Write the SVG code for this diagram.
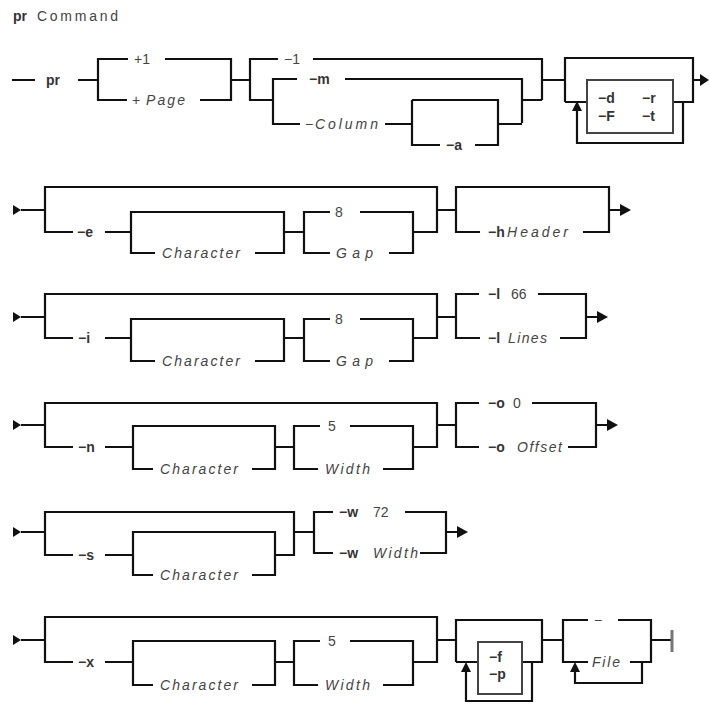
<svg xmlns="http://www.w3.org/2000/svg" width="709" height="704" viewBox="0 0 709 704">
<style>
.ln{fill:none;stroke:#111;stroke-width:2.2;stroke-linejoin:miter;stroke-linecap:butt}
.box{fill:none;stroke:#444;stroke-width:2}
.ar{fill:#111;stroke:none}
.end{stroke:#777;stroke-width:3}
text{font-family:"Liberation Sans",Arial,sans-serif;font-size:14px;fill:#444}
.b{font-weight:bold;fill:#333}
.i{font-style:italic}
</style>
<rect width="709" height="704" fill="#fff"/>
<g id="title">
<text class="b" x="13" y="21">pr</text>
<text x="37" y="21" textLength="81">Command</text>
</g>
<g id="connectors">
<path class="ln" d="M12,80 H35 M78,80 H98 M128,59 H98 V100 H127 M165,59 H231 V100 H200 M231,80 H250 M278,59 H250 V100 H273 M297,79 H273 V124 H300 M313,59 H542 V100 M345,79 H522 V123 M522,100 H542 M385,124 H412 M412,100 H498 V145 H475 M412,100 V145 H440 M498,124 H522 M542,80 H565 M565,102 V58 H693 V102 H673 M565,102 H587 M693,80 H700 M577,108 V143 H683 V102"/>
<rect class="box" x="587" y="80" width="86" height="53"/>
<polygon class="ar" points="700,74 700,86 709,80"/>
<polygon class="ar" points="572,111 582,111 577,101"/>
<polygon class="ar" points="13,205 13,215 21,210"/>
<path class="ln" d="M21,210 H45 M73,232 H45 V187 H437 V232 H413 M105,232 H131 M155,253 H131 V212 H284 V253 H255 M284,232 H304 M330,212 H304 V253 H330 M360,212 H413 V253 H389 M437,210 H456 M480,232 H456 V187 H609 V232 H583 M609,210 H621"/>
<polygon class="ar" points="620,204 620,216 631,210"/>
<polygon class="ar" points="13,312 13,322 21,317"/>
<path class="ln" d="M21,317 H45 M73,338 H45 V294 H437 V338 H413 M105,338 H131 M155,361 H131 V319 H284 V361 H255 M284,338 H304 M330,319 H304 V361 H330 M360,319 H413 V361 H389 M437,317 H456 M479,294 H456 V338 H480 M538,294 H586 V338 H560 M586,317 H598"/>
<polygon class="ar" points="597,311 597,323 608,317"/>
<polygon class="ar" points="13,420 13,430 21,425"/>
<path class="ln" d="M21,425 H45 M73,447 H45 V403 H437 V447 H413 M105,447 H133 M153,469 H133 V426 H275 V469 H252 M275,447 H294 M320,426 H294 V469 H318 M350,426 H413 V469 H383 M437,425 H456 M479,403 H456 V447 H479 M532,403 H596 V447 H568 M596,425 H608"/>
<polygon class="ar" points="607,419 607,431 618,425"/>
<polygon class="ar" points="13,527 13,537 21,532"/>
<path class="ln" d="M21,532 H45 M73,555 H45 V512 H294 V555 H275 M105,555 H133 M153,575 H133 V532 H275 V575 H252 M294,532 H314 M333,512 H314 V553 H333 M405,512 H446 V553 H420 M446,532 H458"/>
<polygon class="ar" points="457,526 457,538 468,532"/>
<polygon class="ar" points="13,635 13,645 21,640"/>
<path class="ln" d="M21,640 H45 M73,662 H45 V617 H437 V662 H413 M105,662 H133 M153,685 H133 V641 H275 V685 H252 M275,662 H294 M320,641 H294 V685 H318 M350,641 H413 V685 H383 M437,640 H456 M456,662 V620 H542 V662 H522 M456,662 H478 M466,670 V701 H532 V662 M542,640 H563 M588,620 H563 V662 H588 M618,620 H651 V662 H630 M575,670 V683 H642 V662 M651,640 H672"/>
<rect class="box" x="478" y="642" width="44" height="52"/>
<polygon class="ar" points="461,672 471,672 466,662"/>
<polygon class="ar" points="570,672 580,672 575,662"/>
<line class="end" x1="672" y1="630" x2="672" y2="652"/>
</g>
<g id="n-pr"><text class="b" x="46" y="85">pr</text></g>
<g id="n-plus1"><text x="134" y="64">+1</text></g>
<g id="n-page"><text x="132" y="105">+</text><text class="i" x="146" y="105" textLength="39">Page</text></g>
<g id="n-1"><text x="284" y="64">−1</text></g>
<g id="n-m"><text class="b" x="309" y="84">−m</text></g>
<g id="n-column"><text x="305" y="129">−</text><text class="i" x="315" y="129" textLength="63">Column</text></g>
<g id="n-a"><text class="b" x="446" y="150">−a</text></g>
<g id="n-drft">
<text class="b" x="598" y="103">−d</text>
<text class="b" x="642" y="103">−r</text>
<text class="b" x="598" y="121">−F</text>
<text class="b" x="642" y="121">−t</text>
</g>
<g id="n-e"><text class="b" x="77" y="237">−e</text></g>
<g id="n-char1"><text class="i" x="162" y="258" textLength="78">Character</text></g>
<g id="n-8a"><text x="335" y="217">8</text></g>
<g id="n-gap1"><text class="i" x="336" y="258" textLength="37">Gap</text></g>
<g id="n-h"><text class="b" x="488" y="237">−h</text><text class="i" x="507" y="237" textLength="61">Header</text></g>
<g id="n-i"><text class="b" x="78" y="343">−i</text></g>
<g id="n-char2"><text class="i" x="162" y="366" textLength="78">Character</text></g>
<g id="n-8b"><text x="335" y="324">8</text></g>
<g id="n-gap2"><text class="i" x="336" y="366" textLength="37">Gap</text></g>
<g id="n-l66"><text class="b" x="488" y="299">−l</text><text x="511" y="299">66</text></g>
<g id="n-llines"><text class="b" x="488" y="343">−l</text><text class="i" x="508" y="343" textLength="39">Lines</text></g>
<g id="n-n"><text class="b" x="78" y="452">−n</text></g>
<g id="n-char3"><text class="i" x="160" y="474" textLength="78">Character</text></g>
<g id="n-5a"><text x="328" y="431">5</text></g>
<g id="n-width1"><text class="i" x="325" y="474" textLength="45">Width</text></g>
<g id="n-o0"><text class="b" x="488" y="408">−o</text><text x="513" y="408">0</text></g>
<g id="n-ooffset"><text class="b" x="488" y="452">−o</text><text class="i" x="517" y="452" textLength="45">Offset</text></g>
<g id="n-s"><text class="b" x="78" y="560">−s</text></g>
<g id="n-char4"><text class="i" x="160" y="580" textLength="78">Character</text></g>
<g id="n-w72"><text class="b" x="339" y="517">−w</text><text x="373" y="517">72</text></g>
<g id="n-wwidth"><text class="b" x="339" y="558">−w</text><text class="i" x="373" y="558" textLength="45">Width</text></g>
<g id="n-x"><text class="b" x="78" y="667">−x</text></g>
<g id="n-char5"><text class="i" x="160" y="690" textLength="78">Character</text></g>
<g id="n-5b"><text x="328" y="646">5</text></g>
<g id="n-width2"><text class="i" x="325" y="690" textLength="45">Width</text></g>
<g id="n-fp"><text class="b" x="489" y="662">−f</text><text class="b" x="489" y="679">−p</text></g>
<g id="n-dash"><text x="594" y="625">−</text></g>
<g id="n-file"><text class="i" x="592" y="667" textLength="28">File</text></g>
</svg>
